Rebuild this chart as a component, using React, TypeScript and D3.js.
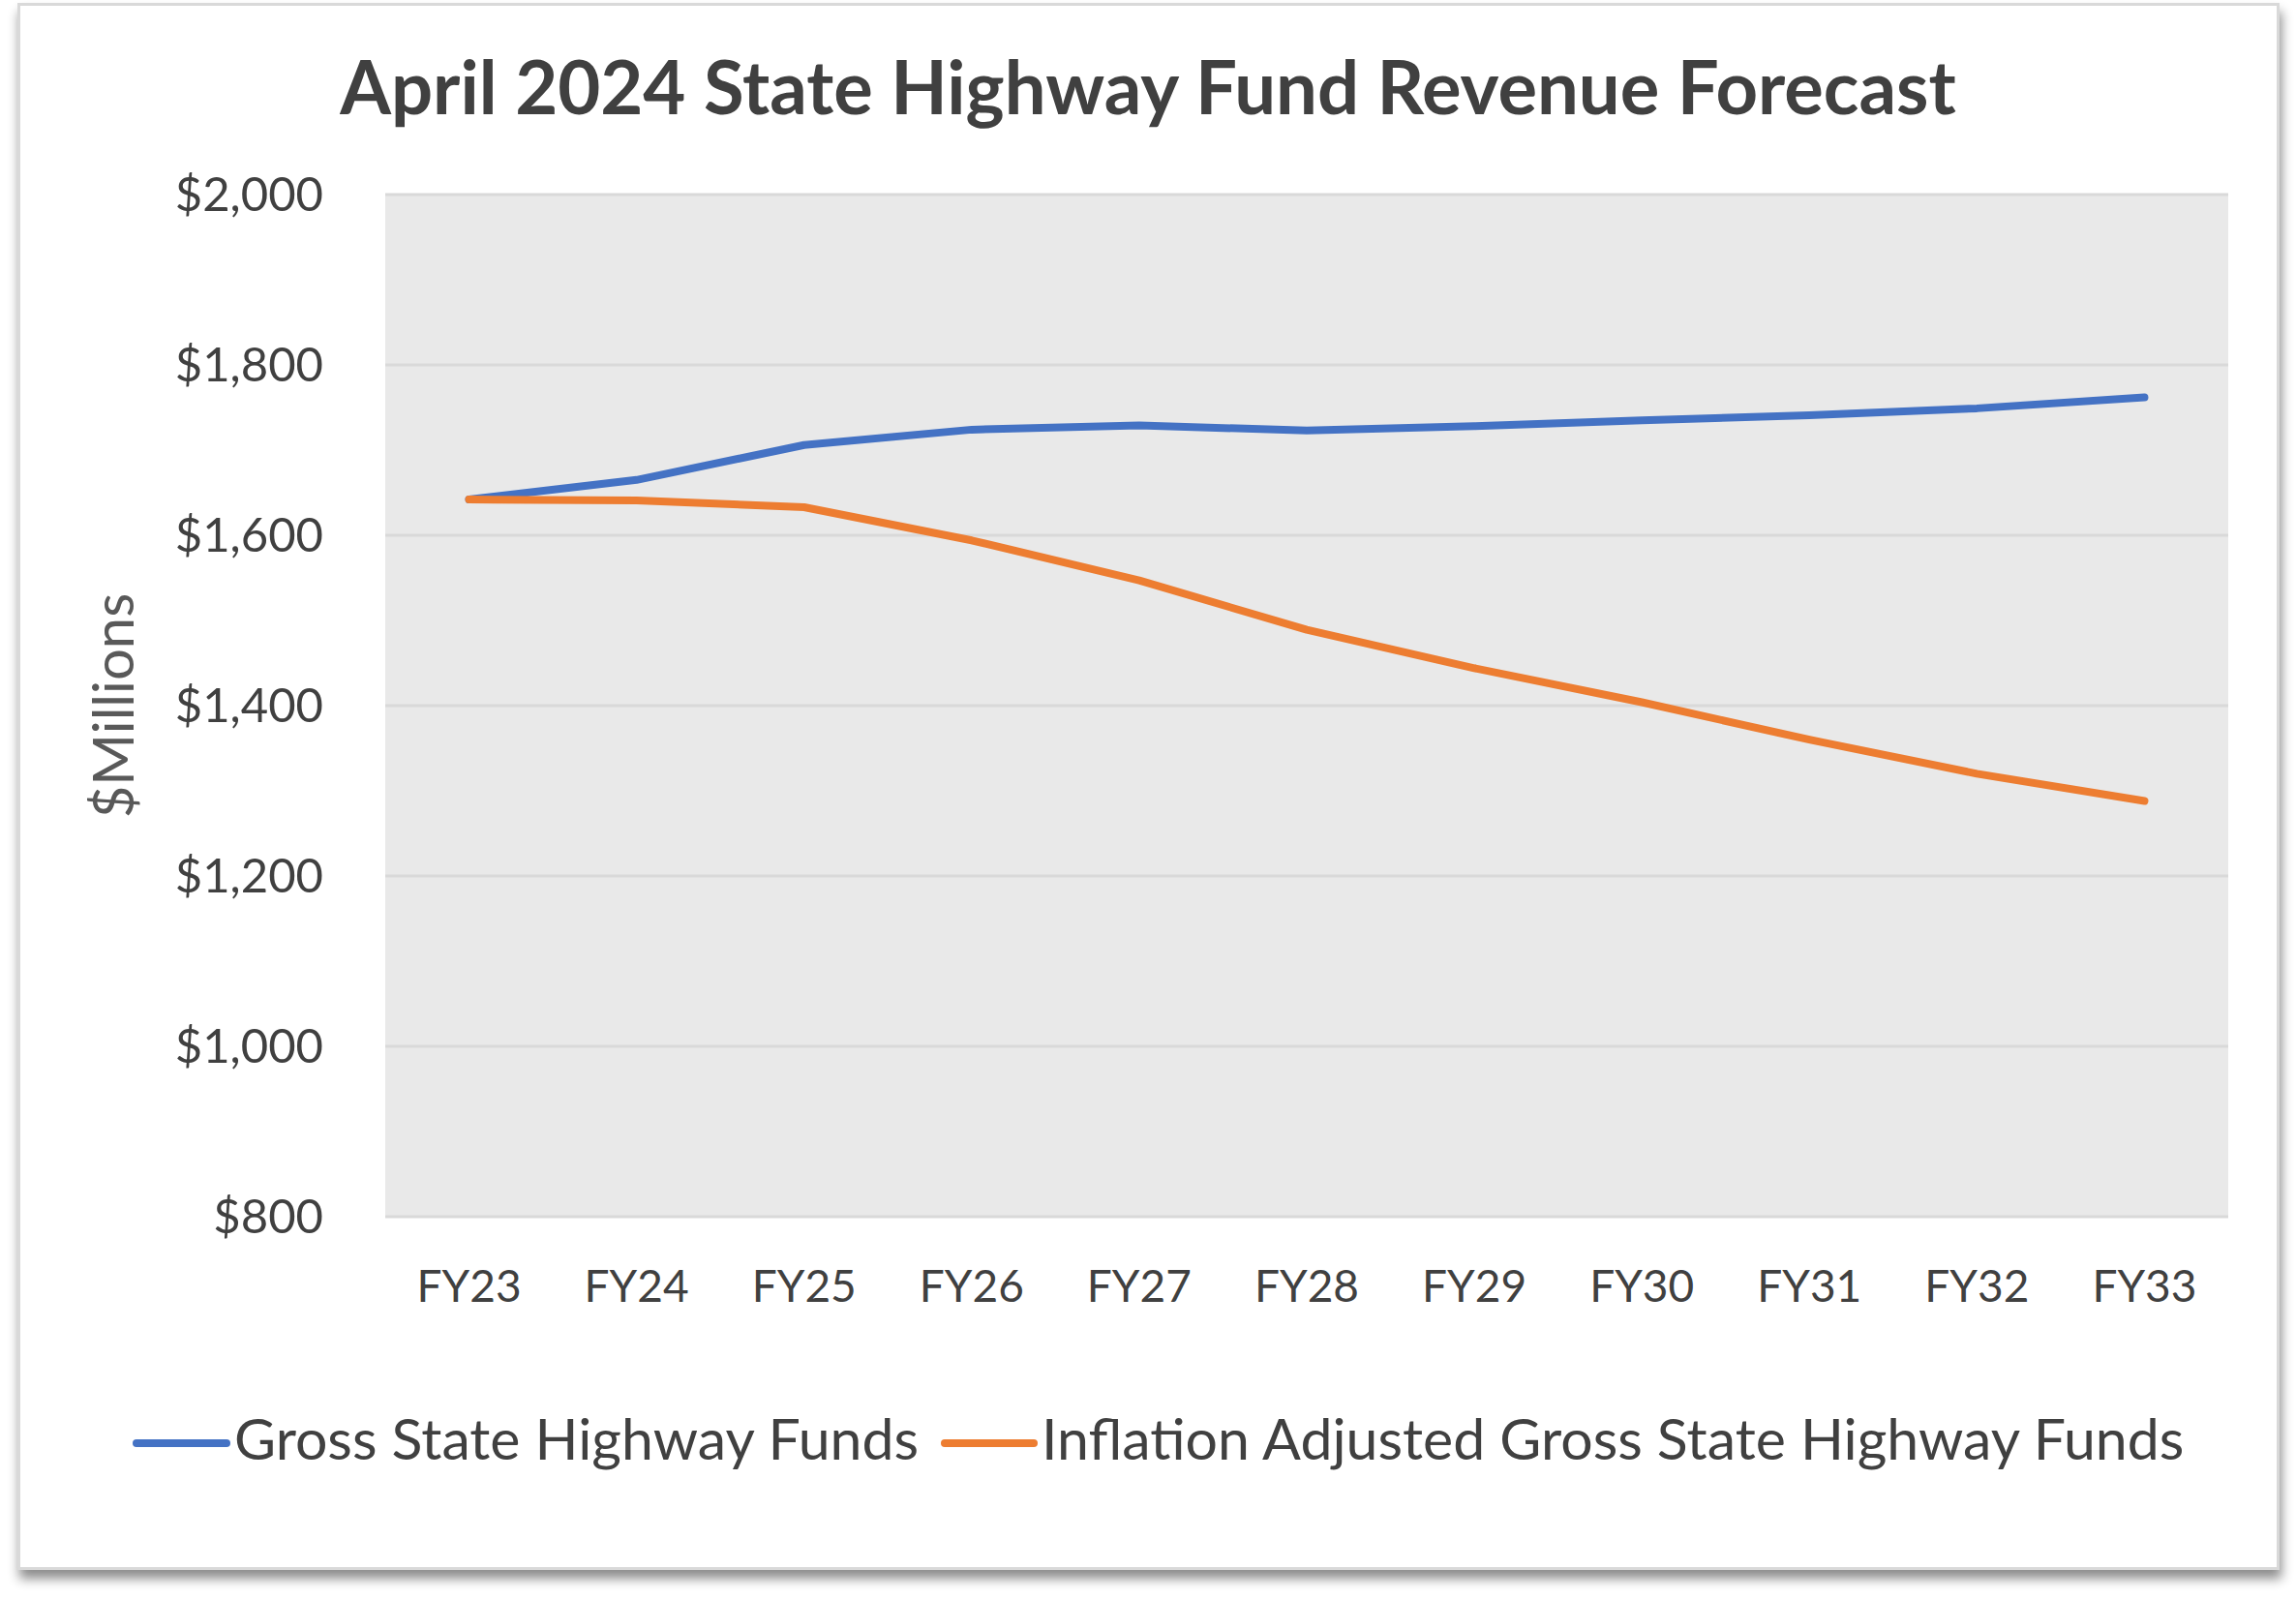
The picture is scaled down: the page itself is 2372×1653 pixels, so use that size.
import React from "react";
import * as d3 from "d3";

const categories = ["FY23", "FY24", "FY25", "FY26", "FY27", "FY28", "FY29", "FY30", "FY31", "FY32", "FY33"];
const grossFunds = [1642, 1665, 1706, 1724, 1729, 1723, 1728, 1735, 1741, 1749, 1762];
const inflationAdjusted = [1642, 1641, 1633, 1594, 1547, 1489, 1444, 1404, 1360, 1320, 1288];
const yTicks = [800, 1000, 1200, 1400, 1600, 1800, 2000];
const seriesNames = ["Gross State Highway Funds", "Inflation Adjusted Gross State Highway Funds"];
const seriesColors = ["#4472C4", "#ED7D31"];
const title = "April 2024 State Highway Fund Revenue Forecast";
const yTitle = "$Millions";

const W = 2372;
const H = 1653;
const FONT = "Lato, 'Open Sans', sans-serif";

export default function App() {
  const plot = { left: 398, right: 2302, top: 201, bottom: 1257 };
  const x = d3.scaleBand<string>().domain(categories).range([plot.left, plot.right]).padding(0);
  const y = d3.scaleLinear().domain([800, 2000]).range([plot.bottom, plot.top]);
  const cx = (c: string) => (x(c) as number) + x.bandwidth() / 2;
  const line = d3
    .line<number>()
    .x((_, i) => cx(categories[i]))
    .y((v) => y(v));
  const fmt = (v: number) => "$" + d3.format(",")(v);
  const series = [grossFunds, inflationAdjusted];

  const legend = [
    { x1: 141, x2: 234, tx: 242 },
    { x1: 976, x2: 1068, tx: 1076 },
  ];

  return (
    <svg
      width={W}
      height={H}
      style={{ position: "absolute", left: 0, top: 0, background: "#fff" }}
      fontFamily={FONT}
    >
      <defs>
        <filter id="shadow" x="-5%" y="-5%" width="110%" height="110%">
          <feDropShadow dx="2" dy="9" stdDeviation="6" floodColor="#000" floodOpacity="0.45" />
        </filter>
      </defs>
      <rect x={19.5} y={4.5} width={2334} height={1616} fill="#fff" stroke="#d9d9d9" strokeWidth={3} filter="url(#shadow)" />

      <text x={1186} y={118} textAnchor="middle" fontSize={76} fontWeight={700} fill="#404040">
        {title}
      </text>

      <rect x={plot.left} y={plot.top} width={plot.right - plot.left} height={plot.bottom - plot.top} fill="#e9e9e9" />
      {yTicks.map((t) => (
        <line key={"g" + t} x1={plot.left} x2={plot.right} y1={y(t)} y2={y(t)} stroke="#d9d9d9" strokeWidth={3} />
      ))}
      {yTicks.map((t) => (
        <text key={"yl" + t} x={334} y={y(t) + 17} textAnchor="end" fontSize={49} fill="#404040">
          {fmt(t)}
        </text>
      ))}
      {categories.map((c) => (
        <text key={"xl" + c} x={cx(c)} y={1345} textAnchor="middle" fontSize={46} fill="#404040">
          {c}
        </text>
      ))}
      <text
        transform={`translate(138, ${(plot.top + plot.bottom) / 2}) rotate(-90)`}
        textAnchor="middle"
        fontSize={58}
        fill="#595959"
      >
        {yTitle}
      </text>

      {series.map((s, i) => (
        <path
          key={"s" + i}
          d={line(s) as string}
          fill="none"
          stroke={seriesColors[i]}
          strokeWidth={8}
          strokeLinecap="round"
          strokeLinejoin="round"
        />
      ))}

      {legend.map((l, i) => (
        <g key={"lg" + i}>
          <line x1={l.x1} x2={l.x2} y1={1491} y2={1491} stroke={seriesColors[i]} strokeWidth={8} strokeLinecap="round" />
          <text x={l.tx} y={1508} fontSize={59} fill="#404040">
            {seriesNames[i]}
          </text>
        </g>
      ))}
    </svg>
  );
}
